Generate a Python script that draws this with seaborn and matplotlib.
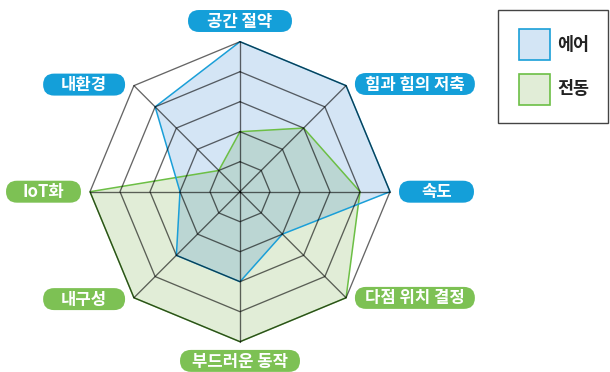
import numpy as np
import pandas as pd
import matplotlib
matplotlib.use("Agg")
import matplotlib.pyplot as plt
from matplotlib.patches import FancyBboxPatch, Rectangle
import seaborn as sns

# ---- data ----
categories = ["공간 절약", "힘과 힘의 저축", "속도", "다점 위치 결정",
              "부드러운 동작", "내구성", "IoT화", "내환경"]
air_values = [5, 5, 5, 2, 3, 3, 2, 4]        # 에어
electric_values = [2, 3, 4, 5, 5, 5, 5, 1]   # 전동
series_names = ["에어", "전동"]
levels = [1, 2, 3, 4, 5]
label_colors = ["blue", "blue", "blue", "green", "green", "green", "green", "blue"]

# ---- style ----
sns.set_theme(style="white")
plt.rcParams["font.family"] = ["Noto Sans CJK KR", "DejaVu Sans"]

BLUE_LINE = "#1a9fd8"
GREEN_LINE = "#6cbf45"
PILL = {"blue": "#149fd9", "green": "#7dc154"}

W, H = 610, 372
PX = 30.0            # pixels per level unit
CX, CY = 240.0, 191.7

fig = plt.figure(figsize=(W / 100, H / 100), dpi=100)
ax = fig.add_axes([0, 0, 1, 1])
ax.set_xlim(-CX / PX, (W - CX) / PX)
ax.set_ylim(-(H - CY) / PX, CY / PX)
ax.set_aspect("equal")
ax.axis("off")

n = len(categories)
angles = np.deg2rad(90 - 45 * np.arange(n))


def to_xy(vals):
    v = np.asarray(vals, dtype=float)
    x = v * np.cos(angles)
    y = v * np.sin(angles)
    return np.append(x, x[0]), np.append(y, y[0])


# fills (green first, blue over it)
gx, gy = to_xy(electric_values)
bx, by = to_xy(air_values)
ax.fill(gx, gy, color=(105 / 255, 165 / 255, 55 / 255), alpha=0.2, lw=0, zorder=1)
ax.fill(bx, by, color=(0, 102 / 255, 196 / 255), alpha=0.17, lw=0, zorder=2)

# outlines via seaborn
df_g = pd.DataFrame({"x": gx, "y": gy})
df_b = pd.DataFrame({"x": bx, "y": by})
sns.lineplot(data=df_g, x="x", y="y", sort=False, estimator=None, color=GREEN_LINE,
             lw=1.1, ax=ax, zorder=3)
sns.lineplot(data=df_b, x="x", y="y", sort=False, estimator=None, color=BLUE_LINE,
             lw=1.1, ax=ax, zorder=4)

# grid (on top, semi-transparent dark)
for lv in levels:
    rx, ry = to_xy([lv] * n)
    ax.plot(rx, ry, color="black", alpha=0.6, lw=0.95, zorder=5)
for a in angles:
    ax.plot([0, levels[-1] * np.cos(a)], [0, levels[-1] * np.sin(a)],
            color="black", alpha=0.6, lw=0.95, zorder=5)

ax.set_xlabel("")
ax.set_ylabel("")

# ---- category pills ----
pill_h = 22 / PX
pill_w = {"공간 절약": 104, "힘과 힘의 저축": 120, "속도": 75, "다점 위치 결정": 120,
          "부드러운 동작": 120, "내구성": 82, "IoT화": 75, "내환경": 82}
pill_pos = {
    "공간 절약": ("c", 0.0, 5.69),
    "힘과 힘의 저축": ("l", 3.83, 3.59),
    "속도": ("l", 5.3, 0.0),
    "다점 위치 결정": ("l", 3.83, -3.54),
    "부드러운 동작": ("c", 0.0, -5.64),
    "내구성": ("r", -3.83, -3.58),
    "IoT화": ("r", -5.3, 0.0),
    "내환경": ("r", -3.83, 3.57),
}
for cat, col in zip(categories, label_colors):
    mode, ax_x, cy = pill_pos[cat]
    w = pill_w[cat] / PX
    if mode == "c":
        x0 = ax_x - w / 2
    elif mode == "l":
        x0 = ax_x
    else:
        x0 = ax_x - w
    r = pill_h / 2
    patch = FancyBboxPatch((x0 + r, cy), w - 2 * r, 1e-6,
                           boxstyle=f"round,pad={r * 0.999},rounding_size={r}",
                           fc=PILL[col], ec="none", zorder=6)
    ax.add_patch(patch)
    ax.text(x0 + w / 2, cy - 0.02, cat, color="white", fontsize=12, fontweight="bold",
            ha="center", va="center", zorder=7)

# ---- legend box ----
lx0, ly0 = (498 - CX) / PX, -(123 - CY) / PX
ax.add_patch(Rectangle((lx0, ly0), (608 - 498) / PX, (123 - 10) / PX,
                       fc="white", ec="#444444", lw=1.0, zorder=6))
leg_fc = ["#d3e5f5", "#e1edd7"]
leg_ec = [BLUE_LINE, GREEN_LINE]
leg_top = [29, 74]
for name, fc, ec, t in zip(series_names, leg_fc, leg_ec, leg_top):
    ax.add_patch(Rectangle(((519 - CX) / PX, -(t + 31 - CY) / PX), 31 / PX, 31 / PX,
                           fc=fc, ec=ec, lw=1.2, zorder=7))
    ax.text((557 - CX) / PX, -(t + 15.5 - CY) / PX, name, color="#222222",
            fontsize=12.5, fontweight="bold", ha="left", va="center", zorder=7)

fig.savefig("out.png", dpi=100)
